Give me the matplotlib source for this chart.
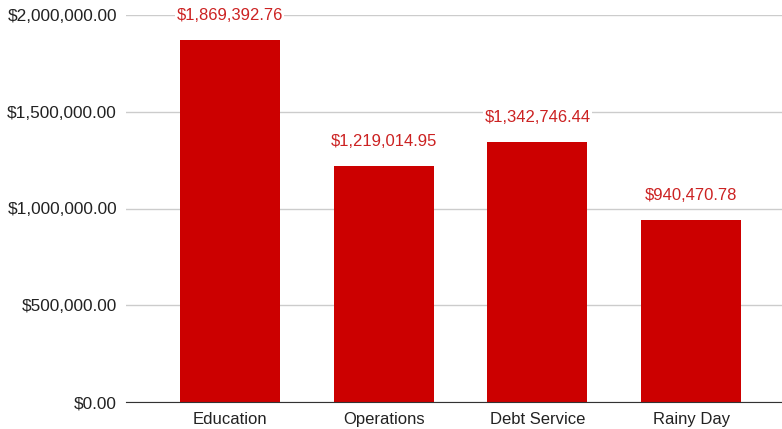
import matplotlib
matplotlib.use("Agg")
import matplotlib.pyplot as plt
from matplotlib.ticker import FuncFormatter

categories = ["Education", "Operations", "Debt Service", "Rainy Day"]
values = [1869392.76, 1219014.95, 1342746.44, 940470.78]
yticks = [0, 500000, 1000000, 1500000, 2000000]

plt.rcParams['font.family'] = ['Liberation Sans', 'DejaVu Sans']

fig = plt.figure(figsize=(7.82, 4.29), dpi=100)
ax = fig.add_axes([126/782, 1-402/429, 1-126/782, (402-15)/429])

x = list(range(len(categories)))
bars = ax.bar(x, values, width=0.65, color="#cc0000", zorder=3)

for xi, v in zip(x, values):
    ax.annotate(f"${v:,.2f}", (xi, v), xytext=(0, 12.5), textcoords="offset points",
                ha="center", va="bottom", color="#cc2222", fontsize=12, zorder=4,
                bbox=dict(facecolor="white", edgecolor="none", pad=1))

ax.set_xlim(-0.675, 3.59)
ax.set_ylim(0, 2000000)
ax.set_yticks(yticks)
ax.yaxis.set_major_formatter(FuncFormatter(lambda v, p: f"${v:,.2f}"))
ax.set_xticks(x)
ax.set_xticklabels(categories)
ax.tick_params(axis="both", length=0, colors="#222222")
ax.tick_params(axis="y", pad=6.5, labelsize=12.4)
ax.tick_params(axis="x", pad=7, labelsize=12)
ax.grid(axis="y", color="#cccccc", linewidth=1, zorder=0)
for s in ["top", "right", "left"]:
    ax.spines[s].set_visible(False)
ax.spines["bottom"].set_color("#333333")
ax.spines["bottom"].set_zorder(5)

fig.savefig("out.png", dpi=100)
